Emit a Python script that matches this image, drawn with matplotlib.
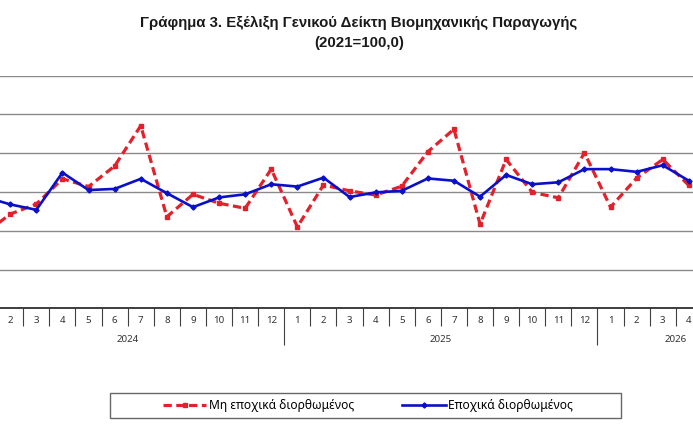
import matplotlib
matplotlib.use("Agg")
import matplotlib.pyplot as plt
from matplotlib.patches import Rectangle
from matplotlib.lines import Line2D

plt.rcParams['font.family'] = ['Noto Sans', 'DejaVu Sans']

# Categories: months per year (the 2026 group continues past the crop)
YEARS = ["2024", "2025", "2026"]
YEAR_MONTHS = [12, 12, 6]
MONTH_LABELS = [str(m) for n in YEAR_MONTHS for m in range(1, n + 1)]

# Index values (2021=100,0), Jan 2024 .. Apr 2026
nsa = [99.2, 104.3, 106.9, 113.4, 111.4, 116.7, 127.1, 103.6, 109.4, 107.1,
       105.8, 115.9, 101.0, 111.8, 110.3, 109.2, 111.5, 120.4, 126.2, 101.7,
       118.4, 109.9, 108.5, 120.1, 106.1, 113.6, 118.4, 111.7]
sa = [108.8, 106.8, 105.4, 115.0, 110.5, 110.8, 113.4, 109.7, 106.1, 108.6,
      109.4, 112.0, 111.4, 113.7, 108.7, 109.9, 110.3, 113.5, 112.9, 108.8,
      114.4, 112.0, 112.5, 115.9, 115.9, 115.2, 116.9, 112.9]

Y_TICKS = [80, 90, 100, 110, 120, 130, 140]

RED = "#E4202A"
BLUE = "#0A10C8"
W, H = 693, 433

fig = plt.figure(figsize=(W / 100, H / 100), dpi=100)

# plot area in pixels (left edge is cropped off in the reference)
left_px, width_px = -28.9, 26.1 * len(MONTH_LABELS)
top_px, bottom_px = 75.7, 308.3
ax = fig.add_axes([left_px / W, (H - bottom_px) / H, width_px / W,
                   (bottom_px - top_px) / H])

x = list(range(len(nsa)))
ax.plot(x, nsa, color=RED, lw=2.3, dashes=(2.6, 1.4), marker='s',
        markersize=3.2, zorder=3)
ax.plot(x, sa, color=BLUE, lw=1.9, marker='D', markersize=2.6, zorder=4)

ax.set_xlim(-0.5, len(MONTH_LABELS) - 0.5)
ax.set_ylim(Y_TICKS[0], Y_TICKS[-1])
ax.set_yticks(Y_TICKS)
ax.yaxis.grid(True, color="#8a8a8a", lw=1.0)
ax.set_axisbelow(True)
ax.tick_params(axis='y', left=False, labelleft=False)
for s in ["top", "right", "left"]:
    ax.spines[s].set_visible(False)
ax.spines["bottom"].set_color("#303030")
ax.spines["bottom"].set_linewidth(1.3)
ax.set_facecolor("none")

# separators between months (short) and years (long)
bounds = [i - 0.5 for i in range(len(MONTH_LABELS) + 1)]
year_bounds = [-0.5]
for n in YEAR_MONTHS:
    year_bounds.append(year_bounds[-1] + n)
ax.set_xticks(year_bounds)
ax.set_xticks([b for b in bounds if b not in year_bounds], minor=True)
ax.set_xticklabels([])
ax.tick_params(axis='x', which='major', length=26.4, width=0.8,
               color="#404040", direction='out')
ax.tick_params(axis='x', which='minor', length=13, width=0.8,
               color="#404040", direction='out')

trans = ax.get_xaxis_transform()
ax_h = bottom_px - top_px


def px_of(i):
    return left_px + (i + 0.5) * 26.1


for i, lab in enumerate(MONTH_LABELS):
    if px_of(i) < 0 or px_of(i) > W:
        continue  # outside the cropped picture
    ax.text(i, -12.4 / ax_h, lab, transform=trans, ha='center', va='center',
            fontsize=7, color="#333333", clip_on=False)
for k, yr in enumerate(YEARS):
    c = (year_bounds[k] + year_bounds[k + 1]) / 2
    ax.text(c, -30.7 / ax_h, yr, transform=trans, ha='center', va='center',
            fontsize=7, color="#333333", clip_on=False)

title_font = dict(family=['Liberation Sans', 'DejaVu Sans'], weight='bold',
                  size=10.8, color="#1a1a1a")
fig.text(359 / W, 1 - 23 / H,
         "Γράφημα 3. Εξέλιξη Γενικού Δείκτη Βιομηχανικής Παραγωγής",
         ha='center', va='center', fontdict=title_font)
fig.text(359 / W, 1 - 42.5 / H, "(2021=100,0)", ha='center', va='center',
         fontdict=title_font)

# legend
fig.patches.append(Rectangle((110 / W, 1 - 418.3 / H), 511 / W, 25 / H,
                             transform=fig.transFigure, fill=False,
                             edgecolor="#666666", lw=1.0))
handles = [
    Line2D([], [], color=RED, lw=2.3, dashes=(2.6, 1.4), marker='s',
           markersize=3.2),
    Line2D([], [], color=BLUE, lw=1.9, marker='D', markersize=2.6),
]
fig.legend(handles, ["Μη εποχικά διορθωμένος", "Εποχικά διορθωμένος"],
           loc='center', bbox_to_anchor=(368 / W, 1 - 406 / H), ncol=2,
           frameon=False, fontsize=8.7, handlelength=3.6, handletextpad=0.2,
           columnspacing=4.0, borderpad=0.2)

fig.savefig("out.png", dpi=100)
